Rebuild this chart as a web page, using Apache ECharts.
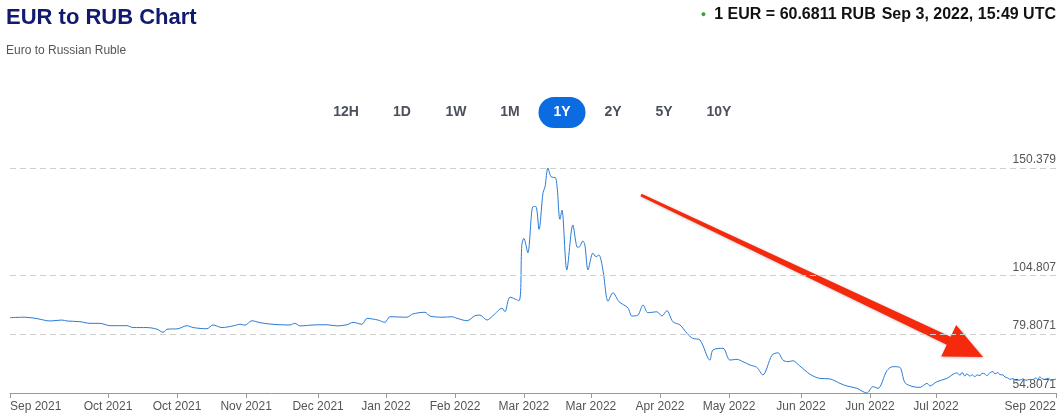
<!DOCTYPE html>
<html><head><meta charset="utf-8">
<script src="https://cdn.jsdelivr.net/npm/echarts@6/dist/echarts.min.js"></script>
<style>html,body{margin:0;padding:0;background:#fff}#c{width:1063px;height:418px}</style>
</head><body><div id="c"></div><script>
// days since Sep 3, 2021
const dayOffsets = [0,5.2,9.4,14.0,18.1,19.9,24.4,27.9,31.4,34.9,40.8,42.9,47.8,51.3,53.4,54.8,58.6,61.8,63.9,68.7,70.8,74.0,77.8,80.3,82.0,84.4,87.2,90.7,94.2,97.7,99.4,101.2,105.7,110.6,114.1,117.6,119.7,122.8,124.6,128.4,130.8,132.6,138.5,140.6,144.8,146.5,151.1,154.2,156.0,159.5,162.2,164.0,166.4,168.5,171.7,172.7,174.5,177.6,178.6,179.3,180.7,182.5,183.5,184.6,186.0,186.7,187.7,188.8,190.5,191.9,192.6,194.3,196.4,197.8,198.5,199.9,200.6,201.7,203.4,204.5,205.5,206.9,208.7,210.4,212.5,215.6,217.0,219.1,220.9,222.6,225.7,227.5,229.2,231.3,233.8,236.2,238.3,240.8,244.2,245.3,248.8,251.2,253.7,255.8,258.2,260.6,262.7,265.9,268.0,269.7,271.5,273.2,275.6,279.1,282.6,286.1,289.6,292.0,295.5,299.0,301.1,302.9,306.0,308.1,310.5,312.3,315.1,317.5,320.0,321.0,323.4,326.9,330.4,331.5,332.2,333.2,333.9,335.0,335.7,336.7,337.4,338.5,339.2,340.2,340.9,341.9,343.0,343.7,344.7,345.4,346.5,347.2,348.2,348.9,350.0,351.0,352.4,353.5,354.5,355.9,356.9,358.0,358.7,359.3,360.1,361.1,362.2,363.2,365.0];
const rates = [86.8,87.0,86.4,85.4,85.8,85.4,85.1,84.4,84.4,83.4,83.4,82.6,82.6,81.9,80.6,81.9,82.1,83.4,82.6,82.1,83.7,82.6,83.3,84.0,83.6,85.5,84.7,84.1,83.8,83.7,84.4,83.3,83.7,83.8,83.3,83.8,84.8,84.0,86.5,85.8,84.8,87.2,87.0,88.4,89.1,87.5,87.0,87.2,86.5,85.5,87.6,87.9,85.8,87.6,90.8,89.3,95.5,94.0,117.7,120.5,114.4,134.0,134.0,124.3,139.9,142.4,150.379,146.7,146.0,128.6,132.5,107.1,126.2,116.9,116.7,119.4,117.7,107.1,114.2,112.7,113.4,107.1,93.8,97.4,93.6,91.0,87.5,87.9,92.2,88.9,89.3,87.5,89.8,85.1,83.7,80.2,78.0,77.3,68.8,73.1,73.8,68.8,69.1,68.1,66.7,65.7,62.5,70.9,71.9,68.8,68.1,68.5,66.3,62.8,61.0,60.8,58.9,57.8,56.8,54.8071,57.5,56.8,64.3,66.0,65.7,59.2,57.5,57.2,58.9,57.8,59.6,61.0,63.4,62.3,63.6,62.0,63.0,61.9,62.6,61.7,62.5,62.2,63.2,62.9,62.1,63.4,63.9,62.9,63.5,62.6,62.5,61.6,61.2,60.6,60.9,60.2,60.3,60.8,60.2,60.6,60.5,61.2,60.4,61.7,60.9,60.6,61.1,60.4,60.68];
const xTickDays = [0,34.2,58.3,82.4,107.5,131.2,155.3,179.3,202.7,226.8,250.9,276.0,300.1,323.1,365];
const xTickLabels = ['Sep 2021','Oct 2021','Oct 2021','Nov 2021','Dec 2021','Jan 2022','Feb 2022','Mar 2022','Mar 2022','Apr 2022','May 2022','Jun 2022','Jun 2022','Jul 2022','Sep 2022'];
const yTickValues = [54.8071,79.8071,104.807,150.379];
const yTickLabels = ['54.8071','79.8071','104.807','150.379'];
const yGridValues = [79.8071,104.807,150.379];
const rangeButtons = ['12H','1D','1W','1M','1Y','2Y','5Y','10Y'];
const activeRange = '1Y';
const latestRate = '60.6811';
const latestTime = 'Sep 3, 2022, 15:49 UTC';

const Y_MIN = 54.8071, Y_MAX = 150.379;
const FONT = '"Liberation Sans", Arial, Helvetica, sans-serif';
const chart = echarts.init(document.getElementById('c'), null, {renderer:'canvas'});

// range buttons (UI)
const btnCenters = [346,402,456,510,562,613,664,719];
const graphics = [];
rangeButtons.forEach((b,i)=>{
  const cx = btnCenters[i], active = b===activeRange;
  if (active) graphics.push({type:'rect', shape:{x:cx-23.5,y:97,width:47,height:31,r:15.5}, style:{fill:'#0a6ce0'}});
  graphics.push({type:'text', x:cx, y:112.5, style:{text:b, fontFamily:FONT, fontSize:14, fontWeight:'bold', fill: active?'#fff':'#4b505c', align:'center', verticalAlign:'middle'}});
});
// annotation arrow
(function(){
  const S=[641,195], T=[983,357];
  const dx=T[0]-S[0], dy=T[1]-S[1], L=Math.hypot(dx,dy);
  const u=[dx/L,dy/L], n=[-u[1],u[0]];
  const headLen=38, headHalf=17.5, w0=1.4, w1=4.5;
  const Hb=[T[0]-u[0]*headLen, T[1]-u[1]*headLen];
  const p=(b,k)=>[b[0]+n[0]*k, b[1]+n[1]*k];
  graphics.push({type:'polygon', shape:{points:[p(S,-w0),p(Hb,-w1),p(Hb,-headHalf),T,p(Hb,headHalf),p(Hb,w1),p(S,w0)]},
    style:{fill:'#f52a0c', shadowBlur:3, shadowColor:'rgba(0,0,0,0.25)', shadowOffsetX:1, shadowOffsetY:1}});
})();

chart.setOption({
  animation:false,
  backgroundColor:'#fff',
  title:[
    {text:'EUR to RUB Chart', subtext:'Euro to Russian Ruble', left:1, top:2, itemGap:16,
     textStyle:{fontFamily:FONT, fontSize:22, fontWeight:'bold', color:'#111a6e'},
     subtextStyle:{fontFamily:FONT, fontSize:12, color:'#555'}},
    {text:'{dot|●}{b|1 EUR = '+latestRate+' RUB}{n|'+latestTime+'}', right:2, top:2,
     textStyle:{fontFamily:FONT, rich:{dot:{color:'#2ea043', fontSize:9, fontFamily:FONT, padding:[0,8,0,0]}, b:{fontFamily:FONT, fontWeight:'bold', fontSize:16, color:'#111', padding:[0,6,0,0]}, n:{fontFamily:FONT, fontSize:16, color:'#111'}}}}
  ],
  grid:{left:10, right:7, top:168, bottom:25},
  xAxis:{type:'value', min:0, max:365,
    axisLine:{show:true, lineStyle:{color:'#999', width:1}},
    axisTick:{show:true, customValues:xTickDays, length:5, lineStyle:{color:'#999'}},
    axisLabel:{customValues:xTickDays, fontFamily:FONT, fontSize:12, color:'#555', margin:8,
      alignMinLabel:'left', alignMaxLabel:'right',
      formatter:(v)=>{const i=xTickDays.findIndex(d=>Math.abs(d-v)<0.01); return i>=0?xTickLabels[i]:'';}},
    splitLine:{show:false}},
  yAxis:{type:'value', position:'right', min:Y_MIN, max:Y_MAX,
    axisLine:{show:false}, axisTick:{show:false}, splitLine:{show:false},
    axisLabel:{inside:true, customValues:yTickValues, fontFamily:FONT, fontSize:12, color:'#555', margin:0,
      verticalAlign:'bottom', padding:[0,0,2,0],
      formatter:(v)=>{const i=yTickValues.findIndex(d=>Math.abs(d-v)<0.001); return i>=0?yTickLabels[i]:'';}}},
  series:[{type:'line', data:dayOffsets.map((d,i)=>[d,rates[i]]), showSymbol:false, smooth:0.3, clip:false,
    lineStyle:{color:'#2b7bd6', width:1}, 
    markLine:{silent:true, symbol:'none', label:{show:false},
      lineStyle:{color:'#cfcfcf', type:[6,4], width:1},
      // keep the top gridline a hair inside the grid so it is not dropped at the edge
      data:yGridValues.map(v=>({yAxis: Math.min(v, Y_MAX - 0.05)}))}}],
  graphic:graphics
});
</script></body></html>
